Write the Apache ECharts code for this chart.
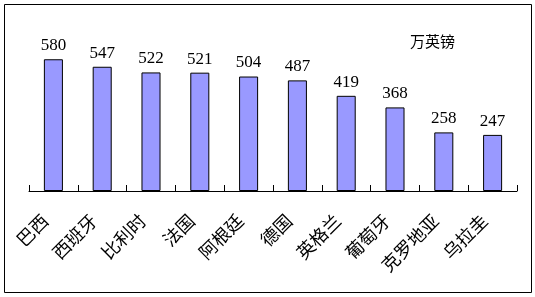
<!DOCTYPE html>
<html><head><meta charset="utf-8">
<script src="https://cdn.jsdelivr.net/npm/echarts@6/dist/echarts.min.js"></script>
<style>html,body{margin:0;padding:0;background:#fff}#c{width:535px;height:297px}</style>
</head><body><div id="c"></div>
<script>
const categories = ["巴西","西班牙","比利时","法国","阿根廷","德国","英格兰","葡萄牙","克罗地亚","乌拉圭"];
const values = [580,547,522,521,504,487,419,368,258,247];
const unitLabel = "万英镑";

const chart = echarts.init(document.getElementById('c'));
chart.setOption({
  animation:false,
  backgroundColor:'#fff',
  graphic:[
    {type:'rect',shape:{x:4.5,y:4.5,width:527,height:288},style:{fill:'none',stroke:'#000',lineWidth:1}},
    {type:'text',left:410,top:34,style:{text:unitLabel,font:'15px "Noto Sans CJK SC"',fill:'#000'}}
  ],
  grid:{left:29,right:18,top:32,bottom:106},
  xAxis:{type:'category',data:categories,boundaryGap:true,
    axisLine:{show:true,lineStyle:{color:'#000',width:1}},
    axisTick:{show:true,alignWithLabel:false,interval:0,inside:true,length:6,lineStyle:{color:'#000',width:1}},
    axisLabel:{rotate:45,interval:0,margin:18,color:'#000',fontSize:18,fontFamily:'"Noto Sans CJK SC"',padding:[0,12,0,0]}
  },
  yAxis:{type:'value',min:0,max:700,show:false,splitLine:{show:false}},
  series:[{type:'bar',data:values,barWidth:'39%',
    itemStyle:{color:'#9999FF',borderColor:'#000',borderWidth:1},
    label:{show:true,position:'top',distance:5,color:'#000',fontSize:17,fontFamily:'"Liberation Serif"'}
  }]
});
</script></body></html>
